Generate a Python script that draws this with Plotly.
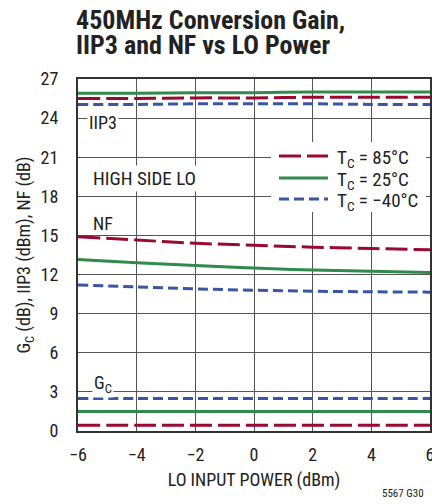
import plotly.graph_objects as go

lo_power = [-6, -4, -2, 0, 2, 4, 6]

iip3_85 = [25.5, 25.5, 25.55, 25.55, 25.6, 25.6, 25.6]
iip3_25 = [25.9, 25.9, 25.95, 25.95, 26.0, 26.0, 26.0]
iip3_m40 = [25.05, 25.05, 25.1, 25.1, 25.1, 25.05, 25.05]

nf_85 = [14.9, 14.65, 14.4, 14.25, 14.1, 14.0, 13.9]
nf_25 = [13.15, 12.9, 12.7, 12.5, 12.35, 12.25, 12.15]
nf_m40 = [11.2, 11.05, 10.9, 10.8, 10.72, 10.68, 10.65]

gc_85 = [0.45, 0.45, 0.45, 0.45, 0.45, 0.45, 0.45]
gc_25 = [1.5, 1.5, 1.5, 1.5, 1.5, 1.5, 1.5]
gc_m40 = [2.5, 2.5, 2.5, 2.5, 2.5, 2.5, 2.5]

x_ticks = [-6, -4, -2, 0, 2, 4, 6]
x_tick_text = ["\u22126", "\u22124", "\u22122", "0", "2", "4", "6"]
y_ticks = [0, 3, 6, 9, 12, 15, 18, 21, 24, 27]

legend_keys = ["85", "25", "m40"]
legend_labels = ["T<sub>C</sub> = 85\u00b0C", "T<sub>C</sub> = 25\u00b0C", "T<sub>C</sub> = \u221240\u00b0C"]

RED = "#9a0a30"
GREEN = "#2f8a4c"
BLUE = "#3a55a6"
FONT = "Liberation Sans Narrow, Roboto Condensed, Arial Narrow, Roboto, sans-serif"
TXT = "#222222"

styles = {
    "85": dict(color=RED, width=3, dash="22px,6px"),
    "25": dict(color=GREEN, width=3, dash="solid"),
    "m40": dict(color=BLUE, width=3, dash="10px,5px"),
}

groups = [
    ("85", [iip3_85, nf_85, gc_85]),
    ("25", [iip3_25, nf_25, gc_25]),
    ("m40", [iip3_m40, nf_m40, gc_m40]),
]

fig = go.Figure()
for key, series in groups:
    for ys in series:
        fig.add_trace(go.Scatter(
            x=lo_power, y=ys, mode="lines", line=dict(shape="spline", **styles[key]),
            showlegend=False, hoverinfo="x+y",
        ))

axis_common = dict(
    showgrid=True, gridcolor="#555555", gridwidth=1.3,
    showline=True, linecolor="#333333", linewidth=2, mirror=True,
    zeroline=False, ticks="", automargin=False, ticklabeloverflow="allow",
    tickfont=dict(family=FONT, size=18, color=TXT),
)

fig.update_layout(
    width=432, height=504,
    margin=dict(l=78, r=2, t=79, b=73, autoexpand=False),
    paper_bgcolor="white", plot_bgcolor="white",
    font=dict(family=FONT, color=TXT),
    showlegend=False,
    xaxis=dict(range=[-6, 6], tickvals=x_ticks, ticktext=x_tick_text,
               title=dict(text="LO INPUT POWER (dBm)", font=dict(family=FONT, size=18), standoff=10),
               ticklabelstandoff=6, **axis_common),
    yaxis=dict(range=[0, 27], tickvals=y_ticks,
               title=dict(text="G<sub>C</sub> (dB), IIP3 (dBm), NF (dB)", font=dict(family=FONT, size=18), standoff=5),
               ticklabelstandoff=14, **axis_common),
)


# helpers: page pixels -> paper units (plot area spans x 78..430, y 79..431)
def px_x(p):
    return (p - 78) / 352


def px_y(p):
    return (431 - p) / 352


# legend (key): white box covering the grid, sample lines and labels
fig.add_shape(type="rect", xref="paper", yref="paper", x0=px_x(271), x1=px_x(426),
              y0=px_y(212), y1=px_y(142), fillcolor="white", line=dict(width=0), layer="above")
legend_rows = [156, 178, 199]
for key, label, row in zip(legend_keys, legend_labels, legend_rows):
    st = styles[key]
    fig.add_shape(type="line", xref="paper", yref="paper", x0=px_x(279), x1=px_x(328),
                  y0=px_y(row), y1=px_y(row), layer="above",
                  line=dict(color=st["color"], width=st["width"], dash=st["dash"]))
    fig.add_annotation(x=px_x(335), y=px_y(row), xref="paper", yref="paper", text=label,
                       showarrow=False, xanchor="left", yanchor="middle", yshift=-2,
                       font=dict(family=FONT, size=19, color=TXT))

ann_font = dict(family=FONT, size=18, color=TXT)
fig.add_annotation(x=-5.15, y=24, xref="x", yref="y", text="IIP3", showarrow=False,
                   bgcolor="white", font=ann_font, yshift=-4)
fig.add_annotation(x=-3.75, y=19.4, xref="x", yref="y", text="HIGH SIDE LO", showarrow=False,
                   bgcolor="white", font=dict(family=FONT, size=19, color=TXT))
fig.add_annotation(x=-5.15, y=15.95, xref="x", yref="y", text="NF", showarrow=False,
                   font=ann_font)
fig.add_annotation(x=-5.15, y=3.6, xref="x", yref="y", text="G<sub>C</sub>", showarrow=False,
                   bgcolor="white", font=ann_font)

title_font = dict(family=FONT, size=26, color=TXT, weight="bold")
fig.add_annotation(x=px_x(74), y=px_y(20), xref="paper", yref="paper", text="450MHz Conversion Gain,",
                   showarrow=False, xanchor="left", yanchor="middle", font=title_font)
fig.add_annotation(x=px_x(74), y=px_y(45), xref="paper", yref="paper", text="IIP3 and NF vs LO Power",
                   showarrow=False, xanchor="left", yanchor="middle", font=title_font)
fig.add_annotation(x=px_x(426), y=px_y(493), xref="paper", yref="paper", text="5567 G30", showarrow=False,
                   xanchor="right", yanchor="middle", font=dict(family=FONT, size=11, color=TXT))

fig.write_html("out.html", config={"displayModeBar": False},
               post_script="document.body.style.margin='0px';")
